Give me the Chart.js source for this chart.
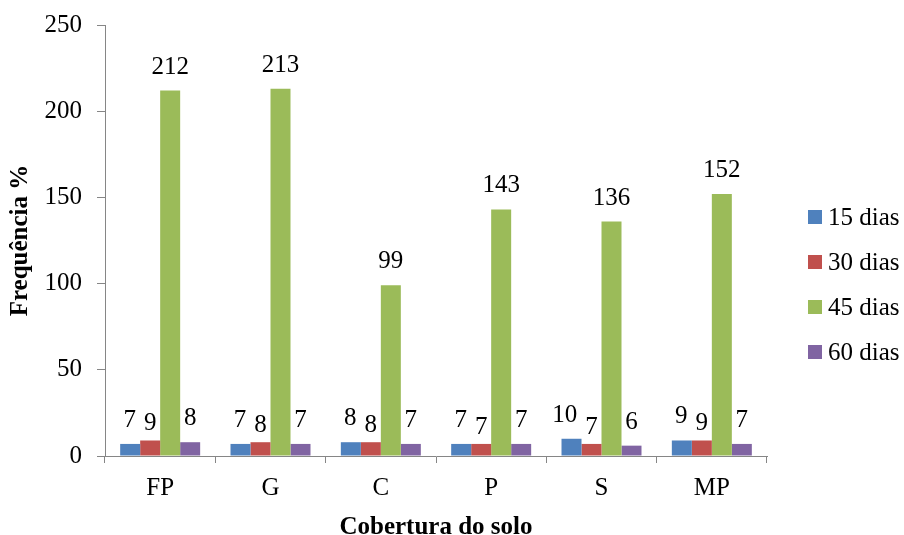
<!DOCTYPE html>
<html>
<head>
<meta charset="utf-8">
<script src="https://cdn.jsdelivr.net/npm/chart.js@4/dist/chart.umd.min.js"></script>
<style>
  html, body { margin: 0; padding: 0; background: #ffffff; }
  #wrap { width: 904px; height: 535px; }
</style>
</head>
<body>
<div id="wrap"><canvas id="c" width="904" height="535"></canvas></div>
<script>
// Soil cover categories and sampling periods
const categories = ['FP', 'G', 'C', 'P', 'S', 'MP'];
const seriesNames = ['15 dias', '30 dias', '45 dias', '60 dias'];

// Frequency (%) per soil cover, one array per period
const dias15 = [7, 7, 8, 7, 10, 9];
const dias30 = [9, 8, 8, 7, 7, 9];
const dias45 = [212, 213, 99, 143, 136, 152];
const dias60 = [8, 7, 7, 7, 6, 7];

const yTicks = [0, 50, 100, 150, 200, 250];

const seriesColors = ['#4F81BD', '#C0504D', '#9BBB59', '#8064A2'];
const AXIS_GRAY = '#868686';
const FONT = "'Liberation Serif', 'Times New Roman', serif";

const seriesValues = [dias15, dias30, dias45, dias60];

// Numbers printed above each bar; neighbouring labels that would touch
// are pushed apart (left one moves left, right one drops a little).
const valueLabels = {
  id: 'valueLabels',
  afterDatasetsDraw(chart) {
    const ctx = chart.ctx;
    ctx.save();
    ctx.font = `25px ${FONT}`;
    ctx.fillStyle = '#000';
    ctx.textAlign = 'center';
    ctx.textBaseline = 'alphabetic';
    const n = chart.data.labels.length;
    for (let i = 0; i < n; i++) {
      const items = chart.data.datasets.map((ds, di) => {
        const bar = chart.getDatasetMeta(di).data[i];
        const text = String(ds.data[i]);
        return { text, x: bar.x, y: bar.y - 17, w: ctx.measureText(text).width };
      });
      for (let k = 0; k < items.length - 1; k++) {
        const a = items[k], b = items[k + 1];
        if (Math.abs(a.y - b.y) > 18) continue;
        const gap = (b.x - b.w / 2) - (a.x + a.w / 2);
        if (gap < 8) {
          a.x -= (8 - gap);
          b.y += 7;
        }
      }
      items.forEach(it => ctx.fillText(it.text, it.x, it.y));
    }
    ctx.restore();
  }
};

// Legend drawn at the right side, square swatches
const sideLegend = {
  id: 'sideLegend',
  afterDraw(chart) {
    const ctx = chart.ctx;
    ctx.save();
    ctx.font = `25px ${FONT}`;
    ctx.textAlign = 'left';
    ctx.textBaseline = 'middle';
    chart.data.datasets.forEach((ds, i) => {
      const cy = 217 + i * 45;
      ctx.fillStyle = ds.backgroundColor;
      ctx.fillRect(808, cy - 7, 14, 14);
      ctx.fillStyle = '#000';
      ctx.fillText(ds.label, 828, cy + 1);
    });
    ctx.restore();
  }
};

new Chart(document.getElementById('c'), {
  type: 'bar',
  data: {
    labels: categories,
    datasets: seriesNames.map((name, i) => ({
      label: name,
      data: seriesValues[i],
      backgroundColor: seriesColors[i],
      borderWidth: 0,
      categoryPercentage: 0.725,
      barPercentage: 1.0
    }))
  },
  options: {
    responsive: false,
    animation: false,
    devicePixelRatio: 1,
    layout: { padding: { left: 0, top: 25, right: 137, bottom: 0 } },
    plugins: {
      legend: { display: false },
      tooltip: { enabled: false }
    },
    scales: {
      x: {
        grid: {
          offset: true,
          drawOnChartArea: false,
          drawTicks: true,
          tickLength: 7,
          color: AXIS_GRAY,
          lineWidth: 1
        },
        border: { display: true, color: AXIS_GRAY, width: 1 },
        ticks: {
          color: '#000',
          padding: 10,
          font: { family: FONT, size: 25, lineHeight: 1.2 },
          maxRotation: 0
        },
        title: {
          display: true,
          text: 'Cobertura do solo',
          color: '#000',
          font: { family: FONT, size: 25, weight: 'bold', lineHeight: 1 },
          padding: { top: 0, bottom: -5 }
        },
        afterFit(scale) { scale.height = 79; }
      },
      y: {
        min: 0,
        max: 250,
        afterBuildTicks(scale) { scale.ticks = yTicks.map(v => ({ value: v })); },
        grid: {
          drawOnChartArea: false,
          drawTicks: true,
          tickLength: 8,
          color: AXIS_GRAY,
          lineWidth: 1
        },
        border: { display: true, color: AXIS_GRAY, width: 1 },
        ticks: {
          color: '#000',
          padding: 15,
          font: { family: FONT, size: 25, lineHeight: 0.4 }
        },
        title: {
          display: true,
          text: 'Frequência %',
          color: '#000',
          font: { family: FONT, size: 25, weight: 'bold', lineHeight: 1 },
          padding: { top: 8, bottom: 0 }
        },
        afterFit(scale) { scale.width = 105; }
      }
    }
  },
  plugins: [valueLabels, sideLegend]
});
</script>
</body>
</html>
